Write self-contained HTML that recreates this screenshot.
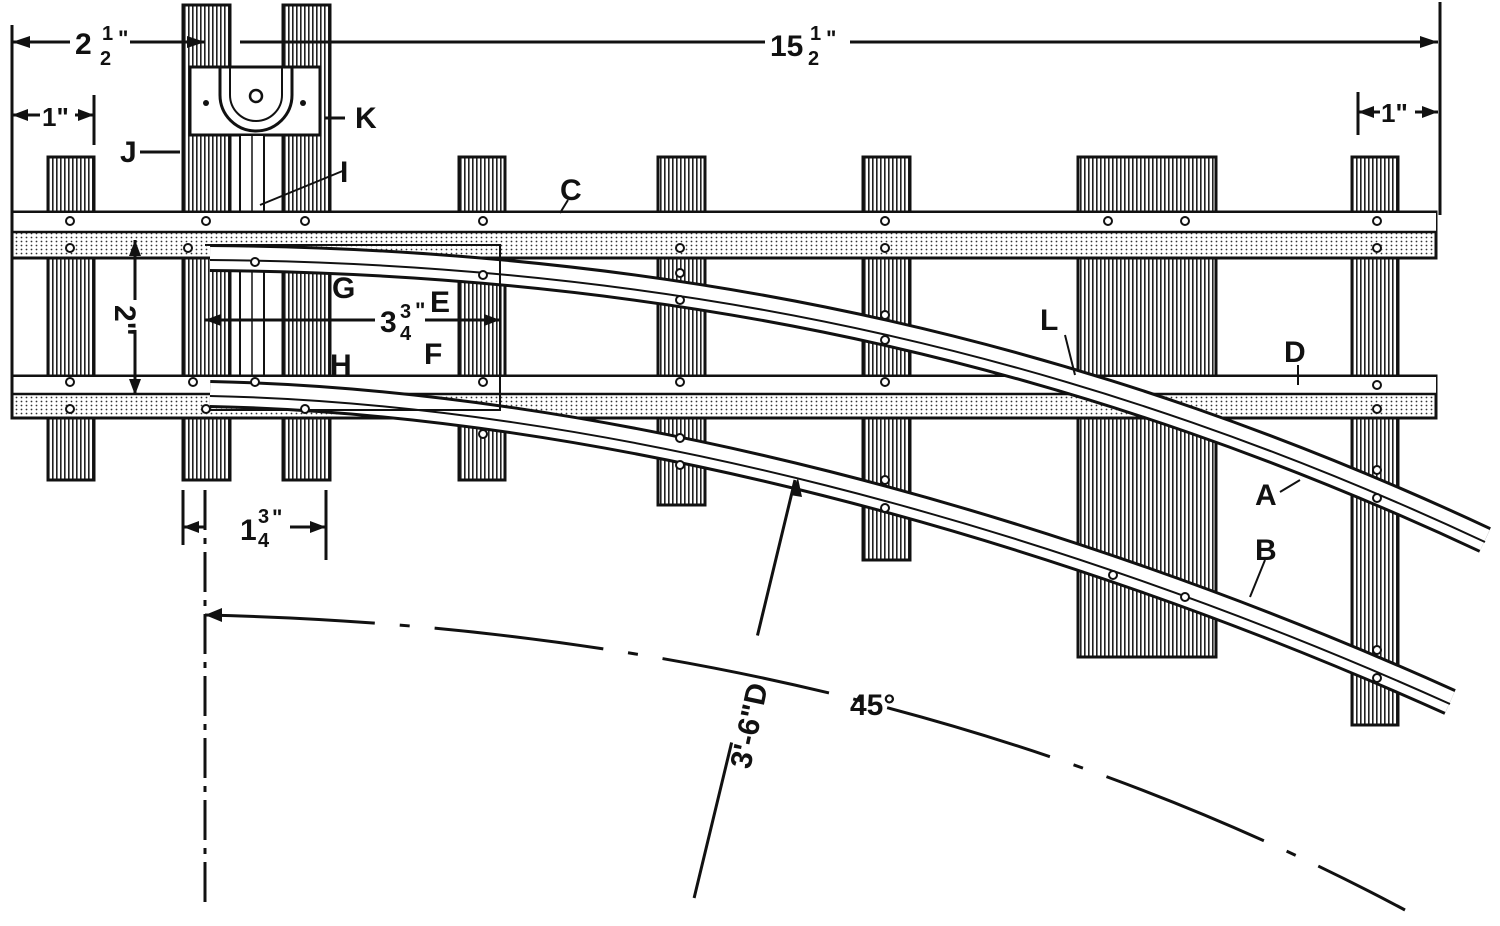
<!DOCTYPE html>
<html><head><meta charset="utf-8"><style>body{margin:0;background:#fff}svg{display:block}</style></head><body>
<svg width="1500" height="926" viewBox="0 0 1500 926" xmlns="http://www.w3.org/2000/svg" font-family="Liberation Sans, sans-serif" font-weight="bold">
<defs>
<pattern id="h" width="4" height="10" patternUnits="userSpaceOnUse"><rect width="4" height="10" fill="#fff"/><rect width="1.6" height="10" fill="#222"/></pattern>
<pattern id="d" width="5" height="4" patternUnits="userSpaceOnUse"><rect width="5" height="4" fill="#fff"/><circle cx="1.5" cy="1.5" r="0.9" fill="#333"/></pattern>
</defs>
<g stroke="#111" stroke-width="3" fill="url(#h)">
<rect x="48" y="157" width="46" height="323"/>
<rect x="183" y="5" width="47" height="475"/>
<rect x="283" y="5" width="47" height="475"/>
<rect x="459" y="157" width="46" height="323"/>
<rect x="658" y="157" width="47" height="348"/>
<rect x="863" y="157" width="47" height="403"/>
<rect x="1078" y="157" width="138" height="500"/>
<rect x="1352" y="157" width="46" height="568"/>
</g>
<rect x="190" y="67" width="130" height="68" fill="#fff" stroke="#111" stroke-width="3"/>
<path d="M220 67 V95 A36 36 0 0 0 292 95 V67" fill="none" stroke="#111" stroke-width="3"/>
<path d="M230 67 V95 A26 26 0 0 0 282 95 V67" fill="none" stroke="#111" stroke-width="2"/>
<circle cx="256" cy="96" r="6" fill="none" stroke="#111" stroke-width="2.5"/>
<circle cx="206" cy="103" r="3" fill="#111"/><circle cx="303" cy="103" r="3" fill="#111"/>
<rect x="240" y="135" width="24" height="260" fill="#fff" stroke="#111" stroke-width="2"/>
<line x1="252" y1="135" x2="252" y2="395" stroke="#111" stroke-width="1.5"/>
<rect x="12" y="212" width="1424" height="46" fill="url(#d)" stroke="#111" stroke-width="3"/>
<rect x="12" y="213" width="1424" height="19" fill="#fff"/>
<line x1="12" y1="232" x2="1436" y2="232" stroke="#111" stroke-width="2.5"/>
<rect x="12" y="376" width="1424" height="42" fill="url(#d)" stroke="#111" stroke-width="3"/>
<rect x="12" y="377" width="1424" height="17" fill="#fff"/>
<line x1="12" y1="394" x2="1436" y2="394" stroke="#111" stroke-width="2.5"/>
<g fill="none">
<path d="M210 258 C700 262 1100 360 1485 540" stroke="#111" stroke-width="28"/>
<path d="M210 258 C700 262 1100 360 1485 540" stroke="#fff" stroke-width="22"/>
<path d="M210 258 C700 262 1100 360 1485 540" stroke="#111" stroke-width="2" transform="translate(0,2)"/>
<path d="M210 394 C600 402 1050 522 1450 702" stroke="#111" stroke-width="28"/>
<path d="M210 394 C600 402 1050 522 1450 702" stroke="#fff" stroke-width="22"/>
<path d="M210 394 C600 402 1050 522 1450 702" stroke="#111" stroke-width="2" transform="translate(0,2)"/>
</g>
<path d="M205 245 H500 V410 H205" fill="none" stroke="#111" stroke-width="2"/>
<g fill="#fff" stroke="#111" stroke-width="2">
<circle cx="70" cy="221" r="4"/><circle cx="206" cy="221" r="4"/><circle cx="305" cy="221" r="4"/><circle cx="483" cy="221" r="4"/><circle cx="885" cy="221" r="4"/><circle cx="1108" cy="221" r="4"/><circle cx="1185" cy="221" r="4"/><circle cx="1377" cy="221" r="4"/>
<circle cx="70" cy="248" r="4"/><circle cx="188" cy="248" r="4"/><circle cx="680" cy="248" r="4"/><circle cx="885" cy="248" r="4"/><circle cx="1377" cy="248" r="4"/>
<circle cx="255" cy="262" r="4"/><circle cx="483" cy="275" r="4"/><circle cx="680" cy="273" r="4"/><circle cx="680" cy="300" r="4"/><circle cx="885" cy="315" r="4"/><circle cx="885" cy="340" r="4"/><circle cx="1377" cy="470" r="4"/><circle cx="1377" cy="498" r="4"/>
<circle cx="70" cy="382" r="4"/><circle cx="193" cy="382" r="4"/><circle cx="255" cy="382" r="4"/><circle cx="483" cy="382" r="4"/><circle cx="680" cy="382" r="4"/><circle cx="885" cy="382" r="4"/><circle cx="1377" cy="385" r="4"/>
<circle cx="70" cy="409" r="4"/><circle cx="206" cy="409" r="4"/><circle cx="305" cy="409" r="4"/><circle cx="1377" cy="409" r="4"/>
<circle cx="483" cy="434" r="4"/><circle cx="680" cy="438" r="4"/><circle cx="680" cy="465" r="4"/><circle cx="885" cy="480" r="4"/><circle cx="885" cy="508" r="4"/><circle cx="1113" cy="575" r="4"/><circle cx="1185" cy="597" r="4"/><circle cx="1377" cy="650" r="4"/><circle cx="1377" cy="678" r="4"/>
</g>
<g stroke="#111" stroke-width="3" fill="none">
<line x1="12" y1="25" x2="12" y2="415"/>
<line x1="1440" y1="2" x2="1440" y2="215"/>
<line x1="12" y1="42" x2="70" y2="42"/><line x1="130" y1="42" x2="205" y2="42"/><line x1="240" y1="42" x2="765" y2="42"/><line x1="850" y1="42" x2="1438" y2="42"/>
<line x1="12" y1="115" x2="40" y2="115"/><line x1="75" y1="115" x2="94" y2="115"/><line x1="94" y1="95" x2="94" y2="145"/>
<line x1="1358" y1="92" x2="1358" y2="135"/><line x1="1358" y1="112" x2="1380" y2="112"/><line x1="1415" y1="112" x2="1438" y2="112"/>
<line x1="135" y1="240" x2="135" y2="300"/><line x1="135" y1="330" x2="135" y2="395"/>
<line x1="205" y1="320" x2="375" y2="320"/><line x1="425" y1="320" x2="500" y2="320"/>
<line x1="183" y1="490" x2="183" y2="545"/><line x1="326" y1="490" x2="326" y2="560"/>
<line x1="183" y1="527" x2="205" y2="527"/><line x1="290" y1="527" x2="326" y2="527"/>
<line x1="205" y1="490" x2="205" y2="910" stroke-dasharray="40 8 6 8"/>
<path d="M205 615 Q880 630 1405 910" stroke-dasharray="170 25 10 25"/>
<line x1="795" y1="480" x2="690" y2="915" stroke-dasharray="160 110"/>
<line x1="140" y1="152" x2="180" y2="152"/><line x1="325" y1="118" x2="345" y2="118"/>
<line x1="260" y1="205" x2="345" y2="170" stroke-width="2"/>
<line x1="568" y1="200" x2="560" y2="213" stroke-width="2"/>
<line x1="1065" y1="335" x2="1075" y2="375" stroke-width="2"/>
<line x1="1298" y1="365" x2="1298" y2="385" stroke-width="2"/>
<line x1="1280" y1="492" x2="1300" y2="480" stroke-width="2"/>
<line x1="1250" y1="597" x2="1265" y2="560" stroke-width="2"/>
</g>
<g fill="#111">
<polygon points="12,42 30,36 30,48"/><polygon points="205,42 187,36 187,48"/><polygon points="1438,42 1420,36 1420,48"/>
<polygon points="12,115 28,109 28,121"/><polygon points="94,115 78,109 78,121"/>
<polygon points="1358,112 1374,106 1374,118"/><polygon points="1438,112 1422,106 1422,118"/>
<polygon points="135,240 129,256 141,256"/><polygon points="135,395 129,379 141,379"/>
<polygon points="205,320 221,314 221,326"/><polygon points="500,320 484,314 484,326"/>
<polygon points="183,527 199,521 199,533"/><polygon points="326,527 310,521 310,533"/>
<polygon points="205,615 222,608 222,622"/><polygon points="798,478 790,495 802,497"/>
</g>
<g font-size="30" fill="#111">
<text x="75" y="54">2</text><text x="102" y="40" font-size="20">1</text><text x="100" y="65" font-size="20">2</text><text x="118" y="46" font-size="22">"</text>
<text x="770" y="56">15</text><text x="810" y="40" font-size="20">1</text><text x="808" y="65" font-size="20">2</text><text x="826" y="46" font-size="22">"</text>
<text x="42" y="126" font-size="26">1"</text><text x="1381" y="122" font-size="26">1"</text>
<text x="120" y="162">J</text><text x="355" y="128">K</text><text x="340" y="182">I</text>
<text x="560" y="200">C</text><text x="332" y="298">G</text><text x="430" y="312">E</text>
<text x="380" y="332">3</text><text x="400" y="318" font-size="20">3</text><text x="400" y="340" font-size="20">4</text><text x="415" y="318" font-size="22">"</text>
<text x="120" y="330" transform="rotate(90 130 315)">2"</text>
<text x="330" y="375">H</text><text x="424" y="364">F</text>
<text x="1040" y="330">L</text><text x="1284" y="362">D</text>
<text x="1255" y="505">A</text><text x="1255" y="560">B</text>
<text x="240" y="540">1</text><text x="258" y="523" font-size="20">3</text><text x="258" y="547" font-size="20">4</text><text x="272" y="525" font-size="22">"</text>
<text x="850" y="715">45°</text>
<text x="0" y="0" transform="translate(750 770) rotate(-78)">3'-6"D</text>
</g>
</svg>
</body></html>
